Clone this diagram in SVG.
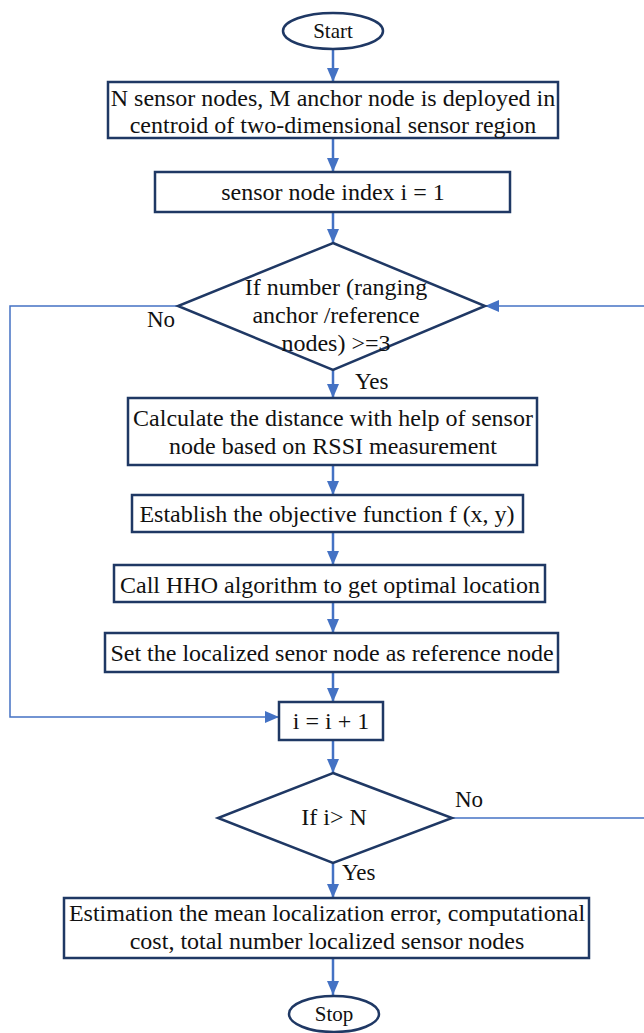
<svg xmlns="http://www.w3.org/2000/svg" width="644" height="1033" viewBox="0 0 644 1033">
<style>
.n{fill:#fff;stroke:#1f3864;stroke-width:2.5}
.t{font-family:"Liberation Serif","Times New Roman",serif;font-size:24px;fill:#111;text-anchor:middle}
.l{font-family:"Liberation Serif","Times New Roman",serif;font-size:23px;fill:#111}
.c{fill:none;stroke:#4472c4;stroke-width:2.5}
.c2{fill:none;stroke:#4472c4;stroke-width:1.5}
</style>
<defs>
<marker id="a" viewBox="0 0 14 12" refX="14" refY="6" markerWidth="14" markerHeight="12" markerUnits="userSpaceOnUse" orient="auto">
<path d="M0,0 L14,6 L0,12 Z" fill="#4472c4"/>
</marker>
</defs>
<rect width="644" height="1033" fill="#fff"/>
<g id="connectors">
<path class="c" d="M333,50 V82" marker-end="url(#a)"/>
<path class="c" d="M333,138 V172" marker-end="url(#a)"/>
<path class="c" d="M333,212 V243" marker-end="url(#a)"/>
<path class="c" d="M333,370 V398" marker-end="url(#a)"/>
<path class="c" d="M333,465 V495" marker-end="url(#a)"/>
<path class="c" d="M333,532 V565" marker-end="url(#a)"/>
<path class="c" d="M333,602 V633" marker-end="url(#a)"/>
<path class="c" d="M333,672 V702" marker-end="url(#a)"/>
<path class="c" d="M333,740 V773" marker-end="url(#a)"/>
<path class="c" d="M333,863 V898" marker-end="url(#a)"/>
<path class="c" d="M333,958 V995" marker-end="url(#a)"/>
<path class="c2" d="M178,306 H10 V717 H279" marker-end="url(#a)"/>
<path class="c2" d="M644,306 H485" marker-end="url(#a)"/>
<path class="c2" d="M452,818 H644"/>
</g>
<g id="start">
<ellipse class="n" cx="333" cy="31" rx="50" ry="18"/>
<text class="t" x="333" y="38" style="font-size:21px">Start</text>
</g>
<g id="deploy">
<rect class="n" x="108" y="82" width="450" height="56"/>
<text class="t" x="333" y="106">N sensor nodes, M anchor node is deployed in</text>
<text class="t" x="333" y="133">centroid of two-dimensional sensor region</text>
</g>
<g id="init">
<rect class="n" x="155" y="172" width="355" height="40"/>
<text class="t" x="333" y="200">sensor node index i = 1</text>
</g>
<g id="check-ranging">
<polygon class="n" points="333,243 485,306 333,370 178,306"/>
<text class="t" x="336" y="295">If number (ranging</text>
<text class="t" x="336" y="323">anchor /reference</text>
<text class="t" x="336" y="351">nodes) &gt;=3</text>
<text class="l" x="147" y="327">No</text>
<text class="l" x="355" y="389">Yes</text>
</g>
<g id="distance">
<rect class="n" x="128" y="398" width="409" height="67"/>
<text class="t" x="333" y="426">Calculate the distance with help of sensor</text>
<text class="t" x="333" y="454">node based on RSSI measurement</text>
</g>
<g id="objective">
<rect class="n" x="132" y="495" width="391" height="37"/>
<text class="t" x="327" y="522">Establish the objective function f (x, y)</text>
</g>
<g id="hho">
<rect class="n" x="114" y="565" width="431" height="37"/>
<text class="t" x="330" y="593">Call HHO algorithm to get optimal location</text>
</g>
<g id="reference">
<rect class="n" x="105" y="633" width="453" height="39"/>
<text class="t" x="332" y="661">Set the localized senor node as reference node</text>
</g>
<g id="increment">
<rect class="n" x="279" y="702" width="104" height="38"/>
<text class="t" x="331" y="729">i = i + 1</text>
</g>
<g id="check-n">
<polygon class="n" points="333,773 452,818 333,863 218,818"/>
<text class="t" x="334" y="825">If i&gt; N</text>
<text class="l" x="455" y="807">No</text>
<text class="l" x="342" y="880">Yes</text>
</g>
<g id="estimate">
<rect class="n" x="64" y="898" width="525" height="60"/>
<text class="t" x="327" y="921">Estimation the mean localization error, computational</text>
<text class="t" x="327" y="949">cost, total number localized sensor nodes</text>
</g>
<g id="stop">
<ellipse class="n" cx="334" cy="1014" rx="45" ry="18"/>
<text class="t" x="334" y="1021" style="font-size:21px">Stop</text>
</g>
</svg>
